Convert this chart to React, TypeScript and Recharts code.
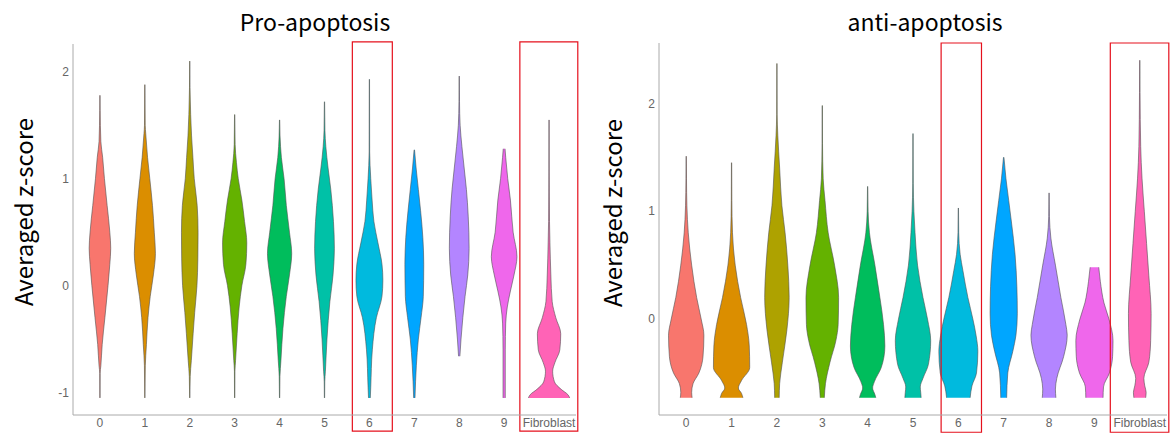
import { ComposedChart, Area, XAxis, YAxis, ReferenceArea } from 'recharts';

const clusters = ['0', '1', '2', '3', '4', '5', '6', '7', '8', '9', 'Fibroblast'];
const clusterColors = ['#F8766D', '#DB8E00', '#AEA200', '#64B200', '#00BD5C', '#00C1A7', '#00BADE', '#00A6FF', '#B385FF', '#EF67EB', '#FF63B6'];

// violin profiles: [averaged z-score, half width in category units]
const pro0 = [[1.78, 0.003], [1.64, 0.005], [1.35, 0.02], [1.2, 0.06], [1.0, 0.1], [0.75, 0.16], [0.5, 0.22], [0.35, 0.24], [0.2, 0.22], [0.0, 0.18], [-0.3, 0.11], [-0.55, 0.05], [-0.75, 0.02], [-0.82, 0.005], [-1.05, 0.003]];
const pro1 = [[1.88, 0.003], [1.5, 0.008], [1.42, 0.02], [1.2, 0.06], [1.0, 0.11], [0.75, 0.17], [0.5, 0.21], [0.3, 0.235], [0.1, 0.19], [-0.1, 0.12], [-0.3, 0.07], [-0.55, 0.035], [-0.75, 0.01], [-1.05, 0.003]];
const pro2 = [[2.1, 0.003], [1.85, 0.006], [1.6, 0.02], [1.4, 0.04], [1.2, 0.07], [1.0, 0.1], [0.75, 0.165], [0.5, 0.185], [0.25, 0.18], [0.0, 0.16], [-0.25, 0.11], [-0.45, 0.075], [-0.7, 0.035], [-0.85, 0.01], [-1.05, 0.003]];
const pro3 = [[1.6, 0.003], [1.32, 0.01], [1.15, 0.04], [1.0, 0.08], [0.8, 0.16], [0.6, 0.22], [0.4, 0.27], [0.2, 0.25], [0.0, 0.16], [-0.2, 0.1], [-0.45, 0.055], [-0.7, 0.02], [-0.8, 0.006], [-1.05, 0.003]];
const pro4 = [[1.55, 0.003], [1.4, 0.01], [1.2, 0.04], [1.0, 0.1], [0.75, 0.15], [0.5, 0.22], [0.3, 0.27], [0.1, 0.22], [-0.1, 0.15], [-0.4, 0.075], [-0.7, 0.03], [-0.85, 0.008], [-1.05, 0.003]];
const pro5 = [[1.72, 0.003], [1.45, 0.01], [1.3, 0.03], [1.1, 0.08], [0.9, 0.14], [0.6, 0.2], [0.35, 0.22], [0.1, 0.19], [-0.15, 0.12], [-0.5, 0.055], [-0.8, 0.02], [-0.9, 0.006], [-1.05, 0.003]];
const pro6 = [[1.93, 0.003], [1.25, 0.006], [1.0, 0.03], [0.8, 0.06], [0.6, 0.1], [0.4, 0.19], [0.2, 0.28], [0.05, 0.3], [-0.1, 0.28], [-0.3, 0.155], [-0.6, 0.065], [-0.95, 0.03], [-1.05, 0.02]];
const pro7 = [[1.27, 0.005], [1.1, 0.04], [0.9, 0.09], [0.7, 0.14], [0.45, 0.19], [0.2, 0.21], [-0.1, 0.2], [-0.3, 0.15], [-0.5, 0.09], [-0.75, 0.045], [-1.05, 0.015]];
const pro8 = [[1.96, 0.003], [1.72, 0.006], [1.5, 0.02], [1.3, 0.06], [1.1, 0.11], [0.9, 0.16], [0.65, 0.2], [0.35, 0.22], [0.1, 0.19], [-0.1, 0.13], [-0.3, 0.08], [-0.5, 0.04], [-0.66, 0.015]];
const pro9 = [[1.28, 0.02], [1.2, 0.035], [1.0, 0.08], [0.8, 0.14], [0.5, 0.2], [0.27, 0.285], [0.1, 0.22], [-0.05, 0.14], [-0.2, 0.07], [-0.35, 0.035], [-0.6, 0.025], [-1.05, 0.025]];
const proFib = [[1.55, 0.003], [1.1, 0.004], [0.6, 0.01], [0.4, 0.02], [0.1, 0.04], [-0.15, 0.07], [-0.3, 0.15], [-0.45, 0.26], [-0.6, 0.24], [-0.72, 0.13], [-0.8, 0.08], [-0.9, 0.12], [-0.97, 0.27], [-1.02, 0.42], [-1.05, 0.46]];

const anti0 = [[1.51, 0.003], [1.3, 0.006], [1.05, 0.015], [0.8, 0.045], [0.5, 0.12], [0.2, 0.23], [0.0, 0.33], [-0.15, 0.39], [-0.35, 0.37], [-0.5, 0.28], [-0.6, 0.15], [-0.68, 0.12], [-0.73, 0.13]];
const anti1 = [[1.45, 0.003], [1.1, 0.006], [0.8, 0.02], [0.5, 0.08], [0.2, 0.2], [-0.05, 0.33], [-0.25, 0.39], [-0.45, 0.4], [-0.57, 0.22], [-0.64, 0.15], [-0.69, 0.22], [-0.73, 0.25]];
const anti2 = [[2.37, 0.003], [1.9, 0.005], [1.7, 0.02], [1.4, 0.06], [1.05, 0.11], [0.8, 0.18], [0.5, 0.24], [0.2, 0.27], [-0.1, 0.22], [-0.4, 0.12], [-0.6, 0.06], [-0.73, 0.05]];
const anti3 = [[1.98, 0.003], [1.63, 0.005], [1.3, 0.02], [1.1, 0.06], [0.8, 0.13], [0.5, 0.27], [0.2, 0.36], [-0.05, 0.35], [-0.2, 0.3], [-0.4, 0.17], [-0.6, 0.07], [-0.73, 0.045]];
const anti4 = [[1.23, 0.003], [1.0, 0.01], [0.8, 0.04], [0.5, 0.16], [0.2, 0.27], [-0.05, 0.35], [-0.25, 0.38], [-0.45, 0.3], [-0.58, 0.15], [-0.64, 0.11], [-0.7, 0.16], [-0.73, 0.18]];
const anti5 = [[1.72, 0.003], [1.26, 0.006], [1.0, 0.02], [0.8, 0.045], [0.5, 0.1], [0.2, 0.22], [0.0, 0.32], [-0.2, 0.39], [-0.42, 0.34], [-0.55, 0.22], [-0.63, 0.16], [-0.68, 0.17], [-0.73, 0.18]];
const anti6 = [[1.03, 0.003], [0.8, 0.008], [0.6, 0.04], [0.45, 0.1], [0.2, 0.21], [0.0, 0.32], [-0.15, 0.39], [-0.3, 0.43], [-0.5, 0.4], [-0.62, 0.3], [-0.73, 0.26]];
const anti7 = [[1.5, 0.005], [1.3, 0.05], [1.1, 0.11], [0.9, 0.17], [0.6, 0.25], [0.3, 0.29], [0.05, 0.3], [-0.15, 0.27], [-0.3, 0.2], [-0.5, 0.09], [-0.73, 0.065]];
const anti8 = [[1.17, 0.003], [0.95, 0.008], [0.75, 0.04], [0.5, 0.14], [0.2, 0.26], [-0.05, 0.37], [-0.15, 0.4], [-0.35, 0.32], [-0.55, 0.17], [-0.65, 0.14], [-0.73, 0.15]];
const anti9 = [[0.48, 0.095], [0.35, 0.13], [0.15, 0.21], [0.0, 0.32], [-0.2, 0.41], [-0.35, 0.4], [-0.5, 0.33], [-0.63, 0.2], [-0.73, 0.19]];
const antiFib = [[2.4, 0.003], [2.1, 0.006], [1.6, 0.02], [1.3, 0.05], [1.0, 0.1], [0.7, 0.15], [0.4, 0.2], [0.05, 0.25], [-0.2, 0.24], [-0.4, 0.2], [-0.55, 0.09], [-0.62, 0.11], [-0.68, 0.14], [-0.73, 0.13]];

const proProfiles = [pro0, pro1, pro2, pro3, pro4, pro5, pro6, pro7, pro8, pro9, proFib];
const antiProfiles = [anti0, anti1, anti2, anti3, anti4, anti5, anti6, anti7, anti8, anti9, antiFib];

const proTicks = [-1, 0, 1, 2];
const antiTicks = [0, 1, 2];

const toRows = (profile: number[][], i: number) =>
  profile.map(([y, w]) => ({ y, w: [i - w, i + w] }));

const tickStyle = { fontSize: 12, fill: '#666', fontFamily: 'Liberation Sans, Arial, sans-serif' };

function ViolinPanel({ left, width, profiles, yDomain, yTicks, margin, boxTop, boxBottom }: any) {
  return (
    <div style={{ position: 'absolute', left, top: 0, width, height: 433 }}>
      <ComposedChart layout="vertical" width={width} height={433} margin={margin}>
        <XAxis
          type="number"
          domain={[-0.6, 10.6]}
          allowDataOverflow
          ticks={clusters.map((_, i) => i)}
          interval={0}
          tickFormatter={(i: number) => clusters[i]}
          tick={tickStyle}
          tickLine={false}
          tickSize={0}
          tickMargin={3}
          height={18}
          axisLine={{ stroke: '#aaa', strokeWidth: 1 }}
        />
        <YAxis
          type="number"
          dataKey="y"
          domain={yDomain}
          allowDataOverflow
          reversed
          ticks={yTicks}
          interval={0}
          tick={tickStyle}
          tickLine={false}
          tickSize={0}
          tickMargin={4}
          width={40}
          axisLine={{ stroke: '#aaa', strokeWidth: 1 }}
        />
        {profiles.map((p: number[][], i: number) => (
          <Area
            key={clusters[i]}
            data={toRows(p, i)}
            dataKey="w"
            type="monotone"
            fill={clusterColors[i]}
            fillOpacity={1}
            stroke="#505050"
            strokeWidth={0.6}
            dot={false}
            activeDot={false}
            isAnimationActive={false}
          />
        ))}
        {/* red boxes round cluster 6 and Fibroblast */}
        <ReferenceArea x1={5.62} x2={6.51} y1={boxBottom} y2={boxTop} stroke="#E5101C" strokeWidth={1.2} fill="none" ifOverflow="visible" />
        <ReferenceArea x1={9.35} x2={10.64} y1={boxBottom} y2={boxTop} stroke="#E5101C" strokeWidth={1.2} fill="none" ifOverflow="visible" />
      </ComposedChart>
    </div>
  );
}

export default function App() {
  const titleFont = '"Noto Sans CJK KR", "Noto Sans", sans-serif';
  return (
    <div style={{ position: 'absolute', left: 0, top: 0, width: 1171, height: 433, background: '#fff', overflow: 'hidden' }}>
      <ViolinPanel
        left={0}
        width={590}
        profiles={proProfiles}
        yDomain={[-1.21, 2.26]}
        yTicks={proTicks}
        margin={{ top: 44, right: 14, bottom: 0, left: 33 }}
        boxTop={2.28}
        boxBottom={-1.36}
      />
      <ViolinPanel
        left={590}
        width={581}
        profiles={antiProfiles}
        yDomain={[-0.89, 2.56]}
        yTicks={antiTicks}
        margin={{ top: 43, right: 4, bottom: 0, left: 29 }}
        boxTop={2.56}
        boxBottom={-1.05}
      />
      <svg width={1171} height={433} style={{ position: 'absolute', left: 0, top: 0, pointerEvents: 'none' }}>
        <text x={315} y={31} textAnchor="middle" fontSize={23} fontFamily={titleFont} fill="#000">Pro-apoptosis</text>
        <text x={925} y={31} textAnchor="middle" fontSize={23} fontFamily={titleFont} fill="#000">anti-apoptosis</text>
        <text transform="translate(33,212) rotate(-90)" textAnchor="middle" fontSize={24} fontFamily={titleFont} fill="#000">Averaged z-score</text>
        <text transform="translate(622,213) rotate(-90)" textAnchor="middle" fontSize={24} fontFamily={titleFont} fill="#000">Averaged z-score</text>
      </svg>
    </div>
  );
}
